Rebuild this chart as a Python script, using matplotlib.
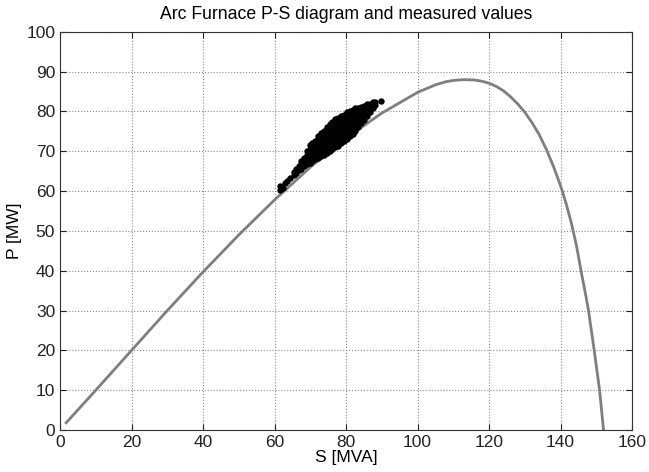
import matplotlib
matplotlib.use('Agg')
import matplotlib.pyplot as plt

plt.rcParams['font.family'] = ['Liberation Sans', 'DejaVu Sans']

# P-S characteristic curve
curve_S = [1.7, 10, 20, 30, 40, 50, 60, 70, 80, 90, 100, 105, 108, 110, 113,
           116, 118, 120, 122, 124, 126, 128, 130, 132, 134, 136, 138, 140,
           141.5, 143, 144.5, 145.7, 147, 147.8, 149.4, 150.9, 152.0]
curve_P = [1.8, 10, 20, 30, 39.7, 49.0, 57.8, 66.0, 73.3, 79.6, 84.8, 86.7, 87.5, 87.8, 88.0,
           87.9, 87.6, 87.1, 86.3, 85.2, 83.7, 81.9, 79.8, 77.2, 74.2, 70.5, 66.2, 61.3,
           57.0, 52.0, 46.0, 40.0, 34.0, 30.0, 20.0, 10.0, 0.0]

# measured operating points (estimated from the dense cluster)
meas_S = [61.6, 61.6, 62.4, 63.0, 63.6, 64.4, 65.3, 65.3, 66.0, 66.0, 66.8, 66.8,
          67.4, 67.4, 67.4, 68.2, 68.2, 68.2,
          69.0, 69.0, 69.0, 69.0,
          69.8, 69.8, 69.8, 69.8, 69.8,
          70.6, 70.6, 70.6, 70.6, 70.6,
          71.4, 71.4, 71.4, 71.4, 71.4,
          72.2, 72.2, 72.2, 72.2, 72.2, 72.2,
          73.0, 73.0, 73.0, 73.0, 73.0, 73.0,
          73.8, 73.8, 73.8, 73.8, 73.8, 73.8,
          74.6, 74.6, 74.6, 74.6, 74.6, 74.6, 74.6,
          75.4, 75.4, 75.4, 75.4, 75.4, 75.4, 75.4,
          76.2, 76.2, 76.2, 76.2, 76.2, 76.2, 76.2,
          77.0, 77.0, 77.0, 77.0, 77.0, 77.0, 77.0,
          77.8, 77.8, 77.8, 77.8, 77.8, 77.8, 77.8,
          78.6, 78.6, 78.6, 78.6, 78.6, 78.6, 78.6,
          79.4, 79.4, 79.4, 79.4, 79.4, 79.4, 79.4,
          80.2, 80.2, 80.2, 80.2, 80.2, 80.2, 80.2,
          81.0, 81.0, 81.0, 81.0, 81.0, 81.0, 81.0,
          81.8, 81.8, 81.8, 81.8, 81.8, 81.8,
          82.6, 82.6, 82.6, 82.6, 82.6, 82.6,
          83.4, 83.4, 83.4, 83.4, 83.4,
          84.2, 84.2, 84.2, 84.2, 84.2,
          85.0, 85.0, 85.0, 85.0,
          85.8, 85.8, 85.8, 85.8,
          86.6, 86.6, 86.6,
          87.4, 87.4, 87.4,
          88.0, 88.0,
          89.8]
meas_P = [60.2, 61.2, 60.8, 62.0, 62.6, 63.2, 64.0, 64.9, 64.6, 65.6, 65.3, 66.4,
          65.6, 66.8, 67.6, 66.2, 67.2, 68.3,
          66.8, 67.9, 69.0, 70.0,
          67.0, 68.2, 69.4, 70.6, 71.6,
          67.6, 68.8, 70.0, 71.2, 72.2,
          68.0, 69.2, 70.4, 71.6, 72.7,
          68.3, 69.6, 70.8, 72.0, 73.2, 73.9,
          68.8, 70.0, 71.2, 72.4, 73.6, 74.6,
          69.0, 70.4, 71.6, 72.8, 74.0, 75.2,
          69.6, 70.8, 72.0, 73.2, 74.4, 75.6, 76.2,
          70.0, 71.4, 72.6, 73.8, 75.0, 76.2, 76.8,
          70.6, 71.8, 73.0, 74.2, 75.4, 76.6, 77.4,
          71.0, 72.2, 73.4, 74.6, 75.8, 77.0, 78.0,
          71.4, 72.8, 74.0, 75.2, 76.4, 77.6, 78.4,
          72.0, 73.2, 74.4, 75.6, 76.8, 78.0, 78.9,
          72.6, 73.8, 75.0, 76.2, 77.4, 78.6, 79.2,
          73.2, 74.4, 75.6, 76.8, 78.0, 79.2, 79.8,
          73.8, 75.0, 76.2, 77.4, 78.6, 79.8, 80.2,
          74.4, 75.6, 76.8, 78.0, 79.2, 80.4,
          75.2, 76.4, 77.6, 78.8, 80.0, 80.8,
          76.0, 77.2, 78.4, 79.6, 80.8,
          77.0, 78.2, 79.4, 80.6, 81.2,
          77.8, 79.0, 80.2, 81.4,
          78.8, 80.0, 81.2, 81.8,
          79.8, 81.0, 82.0,
          80.8, 81.8, 82.4,
          81.6, 82.3,
          82.7]

x_ticks = list(range(0, 161, 20))
y_ticks = list(range(0, 101, 10))

fig = plt.figure(figsize=(6.49, 4.72), dpi=100)
ax = fig.add_axes([0.0925, 0.089, 0.8815, 0.8435])

ax.plot(curve_S, curve_P, color='#7f7f7f', linewidth=2.0, zorder=2)
ax.plot(meas_S, meas_P, 'o', color='black', markersize=4.6, markeredgewidth=0, zorder=3)

ax.set_xlim(0, 160)
ax.set_ylim(0, 100)
ax.set_xticks(x_ticks)
ax.set_yticks(y_ticks)
ax.grid(True, linestyle=':', color='#8a8a8a', linewidth=0.8)
ax.tick_params(direction='in', top=True, right=True, length=4, labelsize=12.5, colors='#222222')
for sp in ax.spines.values():
    sp.set_color('#333333')
    sp.set_linewidth(0.8)

ax.set_title('Arc Furnace P-S diagram and measured values', fontsize=12.7, pad=9)
ax.set_xlabel('S [MVA]', fontsize=12.5, labelpad=0)
ax.set_ylabel('P [MW]', fontsize=12.5, labelpad=3)

fig.savefig('out.png', dpi=100)
